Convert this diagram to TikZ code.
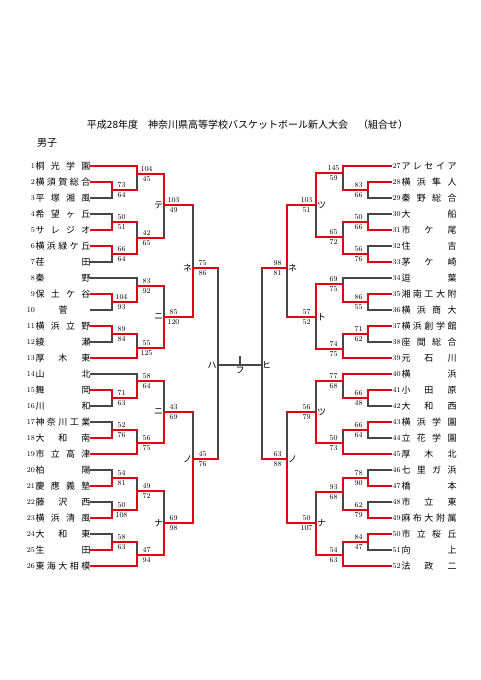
\documentclass[tikz,border=0pt]{standalone}
\usepackage{fontspec}
\newfontfamily\jp{Noto Sans CJK JP}
\usetikzlibrary{calc}
\pgfdeclarelayer{bg}
\pgfsetlayers{bg,main}
\definecolor{bred}{RGB}{228,0,18}
\tikzset{
 win/.style={draw=bred, line width=1.8pt, line cap=rect},
 lose/.style={draw=black!72, line width=1.1pt, line cap=rect},
 score/.style={font=\fontsize{7.5}{7.5}\selectfont, inner sep=0pt},
 tname/.style={font=\jp\fontsize{9}{9}\selectfont, inner sep=0pt, text height=7.7pt, text depth=1.3pt},
 tnum/.style={font=\fontsize{7.5}{7.5}\selectfont, inner sep=0pt},
 klabel/.style={font=\jp\fontsize{9}{9}\selectfont, inner sep=0pt},
}
% #1 match, #2 top source, #3 bottom source, #4 parent, #5 winner, #6 #7 scores, #8 direction
\newcommand{\mtch}[8]{%
 \ifnum#5=1
   \draw[win] (#1 |- #2) -- (#1) -- (#1 -| #4);
   \begin{pgfonlayer}{bg}\draw[lose] (#1) -- (#1 |- #3);\end{pgfonlayer}
 \else
   \draw[win] (#1 |- #3) -- (#1) -- (#1 -| #4);
   \begin{pgfonlayer}{bg}\draw[lose] (#1) -- (#1 |- #2);\end{pgfonlayer}
 \fi
 \node[score] at ([shift={(#8*9.5,-4.8)}]#1) {#6};
 \node[score] at ([shift={(#8*9.5,4.8)}]#1) {#7};
}
% left team: #1 num, #2 y, #3 name, #4 match, #5 style
\newcommand{\lteam}[5]{%
 \node[tnum, anchor=east] (n#1) at (35,#2) {#1};
 \node[tname] (t#1) at (63,#2) {\hbox to 55pt{#3}};
 \draw[#5] (t#1.east) -- (#4 |- t#1);
}
\newcommand{\rteam}[5]{%
 \node[tnum, anchor=west] (n#1) at (392.5,#2) {#1};
 \node[tname] (t#1) at (429,#2) {\hbox to 55pt{#3}};
 \draw[#5] ([xshift=-1.5pt]n#1.west) -- (#4 |- n#1);
}
\begin{document}
\begin{tikzpicture}[x=1pt,y=-1pt]
\begin{pgfonlayer}{bg}
\fill[white] (0,0) rectangle (481,680);
\end{pgfonlayer}
\useasboundingbox (0,0) rectangle (481,680);

\node[font=\jp\fontsize{10}{10}\selectfont, inner sep=0pt] (title) at (247.5,125) {平成28年度　神奈川県高等学校バスケットボール新人大会　（組合せ）};
\node[font=\jp\fontsize{10}{10}\selectfont, inner sep=0pt] (sex) at (47,143) {男子};

% left coordinates
\coordinate (a1) at (112,190);
\coordinate (a2) at (137,174);
\coordinate (a3) at (112,222);
\coordinate (a6) at (112,254);
\coordinate (a4) at (137,238);
\coordinate (te) at (164,205);
\coordinate (b1) at (112,302);
\coordinate (b2) at (137,286);
\coordinate (b3) at (112,334);
\coordinate (b4) at (137,348);
\coordinate (ni1) at (164,317);
\coordinate (ne) at (193,268);
\coordinate (c1) at (112,398);
\coordinate (c2) at (137,381);
\coordinate (c3) at (112,430);
\coordinate (c4) at (137,443);
\coordinate (ni2) at (164,412);
\coordinate (d1) at (112,478);
\coordinate (d2) at (112,510);
\coordinate (d3) at (137,491);
\coordinate (d4) at (112,542);
\coordinate (d5) at (137,555);
\coordinate (na) at (164,523);
\coordinate (no) at (193,459);
\coordinate (ha) at (218,365);
% right coordinates
\coordinate (rA1) at (368,190);
\coordinate (rA2) at (343,173);
\coordinate (rA3) at (368,222);
\coordinate (rA6) at (368,254);
\coordinate (rA4) at (343,237);
\coordinate (rTS1) at (316,205);
\coordinate (rB1) at (368,302);
\coordinate (rB2) at (343,284);
\coordinate (rB3) at (368,334);
\coordinate (rB4) at (343,349);
\coordinate (rTO) at (316,317);
\coordinate (rNE) at (287,268);
\coordinate (rC1) at (368,398);
\coordinate (rC2) at (343,381);
\coordinate (rC3) at (368,430);
\coordinate (rC4) at (343,443);
\coordinate (rTS2) at (316,412);
\coordinate (rD1) at (368,478);
\coordinate (rD2) at (368,510);
\coordinate (rD3) at (343,492);
\coordinate (rD4) at (368,542);
\coordinate (rD5) at (343,555);
\coordinate (rNA) at (316,523);
\coordinate (rNO) at (287,459);
\coordinate (rHI) at (262,365);
\coordinate (fu) at (240,365);
\coordinate (futop) at (240,357);

% left teams
\lteam{1}{166}{桐\hfill 光\hfill 学\hfill 園}{a2}{win}
\lteam{2}{182}{横\hfill 須\hfill 賀\hfill 総\hfill 合}{a1}{win}
\lteam{3}{198}{平\hfill 塚\hfill 湘\hfill 風}{a1}{lose}
\lteam{4}{214}{希\hfill 望\hfill ヶ\hfill 丘}{a3}{lose}
\lteam{5}{230}{サ\hfill レ\hfill ジ\hfill オ}{a3}{win}
\lteam{6}{246}{横\hfill 浜\hfill 緑\hfill ケ\hfill 丘}{a6}{win}
\lteam{7}{262}{荏\hfill 田}{a6}{lose}
\lteam{8}{278}{秦\hfill 野}{b2}{lose}
\lteam{9}{294}{保\hfill 土\hfill ケ\hfill 谷}{b1}{win}
\lteam{10}{310}{\hfill 菅\hfill\null}{b1}{lose}
\lteam{11}{326}{横\hfill 浜\hfill 立\hfill 野}{b3}{win}
\lteam{12}{342}{綾\hfill 瀬}{b3}{lose}
\lteam{13}{358}{厚\hfill 木\hfill 東}{b4}{win}
\lteam{14}{374}{山\hfill 北}{c2}{lose}
\lteam{15}{390}{舞\hfill 岡}{c1}{win}
\lteam{16}{406}{川\hfill 和}{c1}{lose}
\lteam{17}{422}{神\hfill 奈\hfill 川\hfill 工\hfill 業}{c3}{lose}
\lteam{18}{438}{大\hfill 和\hfill 南}{c3}{win}
\lteam{19}{454}{市\hfill 立\hfill 高\hfill 津}{c4}{win}
\lteam{20}{470}{柏\hfill 陽}{d1}{lose}
\lteam{21}{486}{慶\hfill 應\hfill 義\hfill 塾}{d1}{win}
\lteam{22}{502}{藤\hfill 沢\hfill 西}{d2}{lose}
\lteam{23}{518}{横\hfill 浜\hfill 清\hfill 風}{d2}{win}
\lteam{24}{534}{大\hfill 和\hfill 東}{d4}{lose}
\lteam{25}{550}{生\hfill 田}{d4}{win}
\lteam{26}{566}{東\hfill 海\hfill 大\hfill 相\hfill 模}{d5}{win}
% right teams
\rteam{27}{166}{ア\hfill レ\hfill セ\hfill イ\hfill ア}{rA2}{win}
\rteam{28}{182}{横\hfill 浜\hfill 隼\hfill 人}{rA1}{win}
\rteam{29}{198}{秦\hfill 野\hfill 総\hfill 合}{rA1}{lose}
\rteam{30}{214}{大\hfill 船}{rA3}{lose}
\rteam{31}{230}{市\hfill ケ\hfill 尾}{rA3}{win}
\rteam{32}{246}{住\hfill 吉}{rA6}{lose}
\rteam{33}{262}{茅\hfill ケ\hfill 崎}{rA6}{win}
\rteam{34}{278}{逗\hfill 葉}{rB2}{lose}
\rteam{35}{294}{湘\hfill 南\hfill 工\hfill 大\hfill 附}{rB1}{win}
\rteam{36}{310}{横\hfill 浜\hfill 商\hfill 大}{rB1}{lose}
\rteam{37}{326}{横\hfill 浜\hfill 創\hfill 学\hfill 館}{rB3}{win}
\rteam{38}{342}{座\hfill 間\hfill 総\hfill 合}{rB3}{lose}
\rteam{39}{358}{元\hfill 石\hfill 川}{rB4}{win}
\rteam{40}{374}{横\hfill 浜}{rC2}{win}
\rteam{41}{390}{小\hfill 田\hfill 原}{rC1}{win}
\rteam{42}{406}{大\hfill 和\hfill 西}{rC1}{lose}
\rteam{43}{422}{横\hfill 浜\hfill 学\hfill 園}{rC3}{win}
\rteam{44}{438}{立\hfill 花\hfill 学\hfill 園}{rC3}{lose}
\rteam{45}{454}{厚\hfill 木\hfill 北}{rC4}{win}
\rteam{46}{470}{七\hfill 里\hfill ガ\hfill 浜}{rD1}{lose}
\rteam{47}{486}{橋\hfill 本}{rD1}{win}
\rteam{48}{502}{市\hfill 立\hfill 東}{rD2}{lose}
\rteam{49}{518}{麻\hfill 布\hfill 大\hfill 附\hfill 属}{rD2}{win}
\rteam{50}{534}{市\hfill 立\hfill 桜\hfill 丘}{rD4}{win}
\rteam{51}{550}{向\hfill 上}{rD4}{lose}
\rteam{52}{566}{法\hfill 政\hfill 二}{rD5}{win}

% left matches
\mtch{a1}{t2}{t3}{a2}{1}{73}{64}{1}
\mtch{a2}{t1}{a1}{te}{1}{104}{45}{1}
\mtch{a3}{t4}{t5}{a4}{2}{50}{51}{1}
\mtch{a6}{t6}{t7}{a4}{1}{66}{64}{1}
\mtch{a4}{a3}{a6}{te}{2}{42}{65}{1}
\mtch{te}{a2}{a4}{ne}{1}{103}{49}{1}
\mtch{b1}{t9}{t10}{b2}{1}{104}{93}{1}
\mtch{b2}{t8}{b1}{ni1}{2}{83}{92}{1}
\mtch{b3}{t11}{t12}{b4}{1}{89}{84}{1}
\mtch{b4}{b3}{t13}{ni1}{2}{55}{125}{1}
\mtch{ni1}{b2}{b4}{ne}{2}{85}{120}{1}
\mtch{ne}{te}{ni1}{ha}{2}{75}{86}{1}
\mtch{c1}{t15}{t16}{c2}{1}{71}{63}{1}
\mtch{c2}{t14}{c1}{ni2}{2}{58}{64}{1}
\mtch{c3}{t17}{t18}{c4}{2}{52}{76}{1}
\mtch{c4}{c3}{t19}{ni2}{2}{56}{75}{1}
\mtch{ni2}{c2}{c4}{no}{2}{43}{69}{1}
\mtch{d1}{t20}{t21}{d3}{2}{54}{81}{1}
\mtch{d2}{t22}{t23}{d3}{2}{50}{108}{1}
\mtch{d3}{d1}{d2}{na}{2}{49}{72}{1}
\mtch{d4}{t24}{t25}{d5}{2}{58}{63}{1}
\mtch{d5}{d4}{t26}{na}{2}{47}{94}{1}
\mtch{na}{d3}{d5}{no}{2}{69}{98}{1}
\mtch{no}{ni2}{na}{ha}{2}{45}{76}{1}
% right matches
\mtch{rA1}{t28}{t29}{rA2}{1}{83}{66}{-1}
\mtch{rA2}{t27}{rA1}{rTS1}{1}{145}{59}{-1}
\mtch{rA3}{t30}{t31}{rA4}{2}{50}{66}{-1}
\mtch{rA6}{t32}{t33}{rA4}{2}{56}{76}{-1}
\mtch{rA4}{rA3}{rA6}{rTS1}{2}{65}{72}{-1}
\mtch{rTS1}{rA2}{rA4}{rNE}{1}{103}{51}{-1}
\mtch{rB1}{t35}{t36}{rB2}{1}{86}{55}{-1}
\mtch{rB2}{t34}{rB1}{rTO}{2}{69}{75}{-1}
\mtch{rB3}{t37}{t38}{rB4}{1}{71}{62}{-1}
\mtch{rB4}{rB3}{t39}{rTO}{2}{74}{75}{-1}
\mtch{rTO}{rB2}{rB4}{rNE}{1}{57}{52}{-1}
\mtch{rNE}{rTS1}{rTO}{rHI}{1}{98}{81}{-1}
\mtch{rC1}{t41}{t42}{rC2}{1}{66}{48}{-1}
\mtch{rC2}{t40}{rC1}{rTS2}{1}{77}{68}{-1}
\mtch{rC3}{t43}{t44}{rC4}{1}{66}{64}{-1}
\mtch{rC4}{rC3}{t45}{rTS2}{2}{50}{73}{-1}
\mtch{rTS2}{rC2}{rC4}{rNO}{2}{56}{79}{-1}
\mtch{rD1}{t46}{t47}{rD3}{2}{78}{90}{-1}
\mtch{rD2}{t48}{t49}{rD3}{2}{62}{79}{-1}
\mtch{rD3}{rD1}{rD2}{rNA}{1}{93}{68}{-1}
\mtch{rD4}{t50}{t51}{rD5}{1}{84}{47}{-1}
\mtch{rD5}{rD4}{t52}{rNA}{2}{54}{63}{-1}
\mtch{rNA}{rD3}{rD5}{rNO}{2}{50}{107}{-1}
\mtch{rNO}{rTS2}{rNA}{rHI}{2}{63}{88}{-1}

% final
\begin{pgfonlayer}{bg}
\draw[lose] (ha |- ne) -- (ha |- no);
\draw[lose] (rHI |- rNE) -- (rHI |- rNO);
\draw[lose] (ha) -- (rHI);
\draw[lose] (futop) -- (fu);
\end{pgfonlayer}

% round labels
\node[klabel] (lte) at ([xshift=-5.5pt]te) {テ};
\node[klabel] (lni1) at ([xshift=-5.5pt]ni1) {ニ};
\node[klabel] (lni2) at ([xshift=-5.5pt]ni2) {ニ};
\node[klabel] (lna) at ([xshift=-5.5pt]na) {ナ};
\node[klabel] (lne) at ([xshift=-5.5pt]ne) {ネ};
\node[klabel] (lno) at ([xshift=-5.5pt]no) {ノ};
\node[klabel] (lha) at ([xshift=-6pt]ha) {ハ};
\node[klabel] (rlts1) at ([xshift=5.5pt]rTS1) {ツ};
\node[klabel] (rlto) at ([xshift=5.5pt]rTO) {ト};
\node[klabel] (rlts2) at ([xshift=5.5pt]rTS2) {ツ};
\node[klabel] (rlna) at ([xshift=5.5pt]rNA) {ナ};
\node[klabel] (rlne) at ([xshift=5.5pt]rNE) {ネ};
\node[klabel] (rlno) at ([xshift=5.5pt]rNO) {ノ};
\node[klabel] (rlhi) at ([xshift=4.5pt]rHI) {ヒ};
\node[klabel] (lfu) at ([yshift=-5pt]fu) {フ};
\end{tikzpicture}
\end{document}
